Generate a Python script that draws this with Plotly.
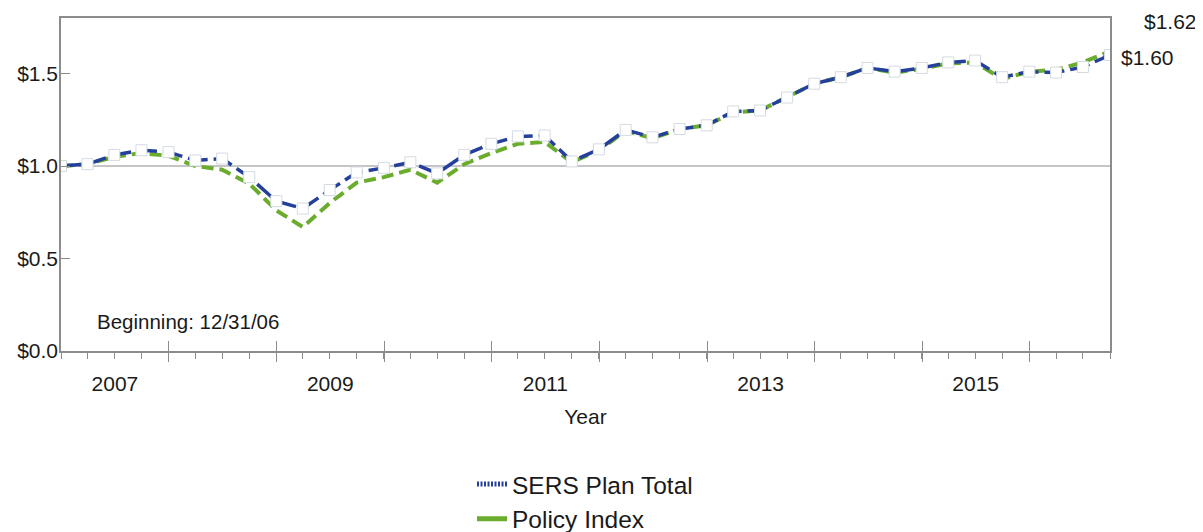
import pandas as pd
import plotly.graph_objects as go

# ---------------- data ----------------
quarter_ends = [d.strftime("%Y-%m-%d") for d in pd.date_range("2006-12-31", "2016-09-30", freq="QE")]

sers_plan_total = [1.00, 1.01, 1.06, 1.085, 1.075, 1.03, 1.04, 0.94, 0.81, 0.77,
                   0.87, 0.965, 0.99, 1.02, 0.96, 1.06, 1.12, 1.16, 1.165, 1.025,
                   1.09, 1.195, 1.155, 1.20, 1.22, 1.295, 1.30, 1.37, 1.445, 1.48,
                   1.53, 1.51, 1.53, 1.56, 1.57, 1.48, 1.51, 1.505, 1.535, 1.60]
policy_index = [1.00, 1.01, 1.05, 1.07, 1.055, 1.00, 0.98, 0.905, 0.76, 0.67,
                0.80, 0.91, 0.94, 0.98, 0.91, 1.01, 1.07, 1.12, 1.13, 1.02,
                1.085, 1.19, 1.15, 1.20, 1.22, 1.29, 1.30, 1.37, 1.445, 1.48,
                1.53, 1.505, 1.525, 1.555, 1.56, 1.47, 1.51, 1.52, 1.56, 1.62]

year_label_pos = ["2007-07-02", "2009-07-02", "2011-07-02", "2013-07-02", "2015-07-02"]
year_labels = ["2007", "2009", "2011", "2013", "2015"]
year_bounds = ["2008-01-01", "2009-01-01", "2010-01-01", "2011-01-01", "2012-01-01",
               "2013-01-01", "2014-01-01", "2015-01-01", "2016-01-01"]
y_tickvals = [0.0, 0.5, 1.0, 1.5]
y_ticktext = ["$0.0", "$0.5", "$1.0", "$1.5"]

BLUE = "#24409a"
GREEN = "#6aac2c"
AXIS = "#8c8c8c"
FONT = "Liberation Sans, Arial, sans-serif"
FS = 21

xrange_ = [quarter_ends[0], quarter_ends[-1]]

fig = go.Figure()
fig.add_trace(go.Scatter(x=quarter_ends, y=policy_index, mode="lines",
                         line=dict(color=GREEN, width=4, dash="12px,6px"),
                         showlegend=False, hoverinfo="skip"))
fig.add_trace(go.Scatter(x=quarter_ends, y=sers_plan_total, mode="lines+markers",
                         line=dict(color=BLUE, width=3.5, dash="20px,6px"),
                         marker=dict(symbol="square", size=11, color="white",
                                     line=dict(color="#d3dbe2", width=1)),
                         showlegend=False, hoverinfo="skip"))
# legend entries
fig.add_trace(go.Scatter(x=[None], y=[None], mode="lines", name="SERS Plan Total",
                         line=dict(color=BLUE, width=5, dash="2px,1.5px")))
fig.add_trace(go.Scatter(x=[None], y=[None], mode="lines", name="Policy Index",
                         line=dict(color=GREEN, width=5)))
# helper traces for overlay axes (major year-boundary ticks)
fig.add_trace(go.Scatter(x=[None], y=[None], xaxis="x2", showlegend=False, hoverinfo="skip"))
fig.add_trace(go.Scatter(x=[None], y=[None], xaxis="x3", showlegend=False, hoverinfo="skip"))

fig.add_shape(type="line", xref="paper", x0=0, x1=1, yref="y", y0=1.0, y1=1.0,
              line=dict(color=AXIS, width=1.2), layer="below")

fig.add_annotation(text="Beginning: 12/31/06", xref="paper", x=0.032, xanchor="left",
                   yref="y", y=0.157, yanchor="middle", showarrow=False,
                   font=dict(family=FONT, size=20.5, color="#1a1a1a"))
fig.add_annotation(text=f"${policy_index[-1]:.2f}", xref="paper", x=1, xanchor="left", xshift=32,
                   yref="y", y=policy_index[-1], yshift=30, showarrow=False,
                   font=dict(family=FONT, size=FS, color="#1a1a1a"))
fig.add_annotation(text=f"${sers_plan_total[-1]:.2f}", xref="paper", x=1, xanchor="left", xshift=9,
                   yref="y", y=sers_plan_total[-1], yshift=-2, showarrow=False,
                   font=dict(family=FONT, size=FS, color="#1a1a1a"))

fig.update_layout(
    width=1195, height=524,
    margin=dict(l=53, r=93, t=10, b=181, autoexpand=False),
    paper_bgcolor="white", plot_bgcolor="white",
    font=dict(family=FONT, size=FS, color="#1a1a1a"),
    xaxis=dict(type="date", range=xrange_, tickmode="array", tickvals=year_label_pos,
               ticktext=year_labels, ticks="", showgrid=False, zeroline=False,
               showline=True, linecolor=AXIS, linewidth=1.5, mirror=True,
               ticklabelstandoff=13,
               minor=dict(tickmode="array", tickvals=quarter_ends, ticks="outside",
                          ticklen=6, tickcolor=AXIS, tickwidth=1, showgrid=False),
               title=dict(text="Year", standoff=15, font=dict(family=FONT, size=FS))),
    xaxis2=dict(type="date", range=xrange_, overlaying="x", anchor="y", side="bottom",
                tickmode="array", tickvals=year_bounds, ticks="outside", ticklen=10,
                tickcolor=AXIS, tickwidth=1.2, showticklabels=False, showgrid=False,
                zeroline=False, showline=False),
    xaxis3=dict(type="date", range=xrange_, overlaying="x", anchor="y", side="bottom",
                tickmode="array", tickvals=year_bounds, ticks="inside", ticklen=10,
                tickcolor=AXIS, tickwidth=1.2, showticklabels=False, showgrid=False,
                zeroline=False, showline=False),
    yaxis=dict(range=[0, 1.8], tickmode="array", tickvals=y_tickvals, ticktext=y_ticktext,
               ticks="inside", ticklen=9, tickcolor=AXIS, showgrid=False, zeroline=False,
               showline=True, linecolor=AXIS, linewidth=1.5, mirror=True,
               ticklabelstandoff=-3),
    legend=dict(xref="container", yref="container", x=0.3883, y=0.1345,
                xanchor="left", yanchor="top", orientation="v",
                font=dict(family=FONT, size=24.5, color="#1a1a1a"),
                bgcolor="rgba(0,0,0,0)", tracegroupgap=0, itemwidth=30),
    showlegend=True,
)

fig.write_html("out.html")
